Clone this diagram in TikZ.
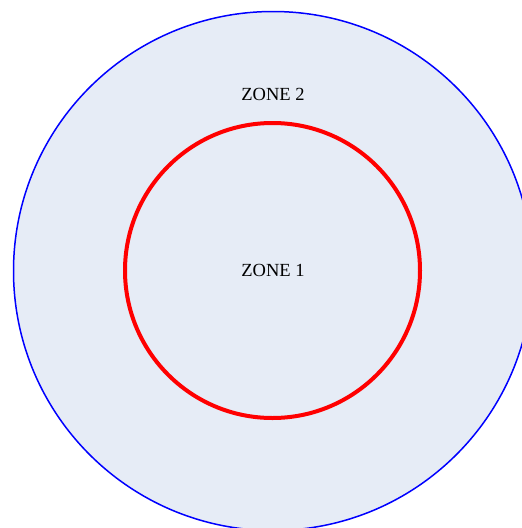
\documentclass[tikz,border=0pt]{standalone}
\usepackage{fontspec}
\setmainfont{Liberation Serif}
\definecolor{zonefill}{HTML}{E6ECF6}
\begin{document}
\begin{tikzpicture}[x=1pt,y=-1pt,
  zonelabel/.style={font=\fontsize{18.5}{20}\selectfont, text=black}]
\useasboundingbox (0,0) rectangle (522,528);
\begin{scope}
\clip (0,0) rectangle (522,528);
\fill[zonefill] (273,271) circle[radius=259.5];
\draw[blue, line width=1.5pt] (273,271) circle[radius=259.5];
\end{scope}
\node[circle, draw=red, line width=4pt, minimum size=295pt, inner sep=0pt] (z1c) at (272.5,270.5) {};
\node[zonelabel] (z2) at (273,94) {ZONE 2};
\node[zonelabel] (z1) at (273,270) {ZONE 1};
\end{tikzpicture}
\end{document}
